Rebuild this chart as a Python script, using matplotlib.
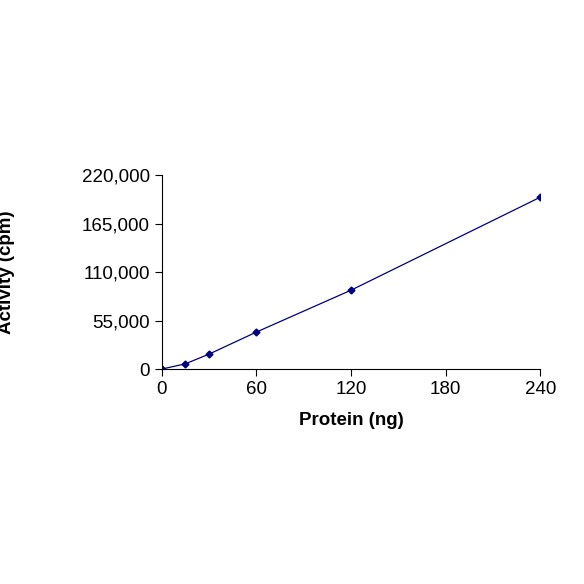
import matplotlib
matplotlib.use('Agg')
import matplotlib.pyplot as plt
from matplotlib.ticker import FuncFormatter

plt.rcParams['font.family'] = ['Liberation Sans', 'DejaVu Sans']

protein = [0, 15, 30, 60, 120, 240]
activity = [0, 6000, 17000, 42000, 89500, 195000]
x_ticks = [0, 60, 120, 180, 240]
y_ticks = [0, 55000, 110000, 165000, 220000]

fig = plt.figure(figsize=(5.84, 5.84), dpi=100)
ax = fig.add_axes([0.277, 0.368, 0.648, 0.332])
ax.plot(protein, activity, color='#000080', lw=0.9, marker='D', ms=3.5)
ax.set_xlim(0, 240)
ax.set_ylim(0, 220000)
ax.set_xticks(x_ticks)
ax.set_yticks(y_ticks)
ax.yaxis.set_major_formatter(FuncFormatter(lambda v, p: f'{int(v):,}'))
for s in ['top', 'right']:
    ax.spines[s].set_visible(False)
ax.tick_params(labelsize=13.5, direction='out', length=5)
ax.set_xlabel('Protein (ng)', fontsize=13.5, fontweight='bold', labelpad=10)
ax.set_ylabel('Activity (cpm)', fontsize=13.5, fontweight='bold', labelpad=48)
fig.savefig('out.png', dpi=100)
